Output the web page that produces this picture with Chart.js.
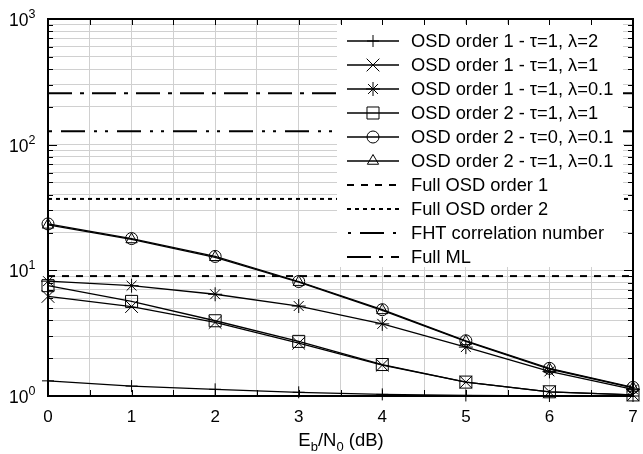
<!DOCTYPE html>
<html>
<head>
<meta charset="utf-8">
<script src="https://cdn.jsdelivr.net/npm/chart.js@4.4.0/dist/chart.umd.min.js"></script>
<style>
  html, body { margin: 0; padding: 0; background: #fff; }
  #wrap { width: 643px; height: 454px; }
</style>
</head>
<body>
<div id="wrap"><canvas id="complexity" width="643" height="454"></canvas></div>
<script>
// Eb/N0 points (dB)
const snr = [0, 1, 2, 3, 4, 5, 6, 7];

// average number of correlations per decoded word
const osd1Tau1Lam2 = [1.32, 1.20, 1.13, 1.07, 1.03, 1.01, 1.00, 1.00];
const osd1Tau1Lam1 = [6.2, 5.15, 3.85, 2.63, 1.76, 1.29, 1.08, 1.02];
const osd1Tau1Lam01 = [8.2, 7.55, 6.45, 5.2, 3.75, 2.45, 1.57, 1.13];
const osd2Tau1Lam1 = [7.55, 5.66, 3.97, 2.72, 1.78, 1.29, 1.08, 1.02];
const osd2Tau0Lam01 = [23.4, 17.9, 12.9, 8.15, 4.86, 2.75, 1.66, 1.17];
const osd2Tau1Lam01 = [23.0, 17.6, 12.7, 8.05, 4.8, 2.72, 1.64, 1.16];

// fixed complexity levels
const fullOsd1 = 9;
const fullOsd2 = 37;
const fhtCorr = 128;
const fullMl = 256;

// axis labels
const xTickLabels = ['0', '1', '2', '3', '4', '5', '6', '7'];
const yTickExponents = [0, 1, 2, 3];

const FONT = '"Liberation Sans", Arial, Helvetica, sans-serif';

const toPoints = arr => snr.map((x, i) => ({ x: x, y: arr[i] }));
const flat = lvl => [{ x: snr[0], y: lvl }, { x: snr[snr.length - 1], y: lvl }];

// grid values of the log axis: 1..9 in every decade
const yGrid = [];
for (let d = 0; d < yTickExponents.length - 1; d++) {
  for (let m = 1; m < 10; m++) yGrid.push(m * Math.pow(10, yTickExponents[d]));
}
yGrid.push(Math.pow(10, yTickExponents[yTickExponents.length - 1]));

function curve(label, arr, style, radius) {
  return {
    label: label,
    data: toPoints(arr),
    borderColor: '#000',
    borderWidth: 1.3,
    pointStyle: style,
    pointRadius: radius,
    pointBorderColor: '#000',
    pointBackgroundColor: 'rgba(0,0,0,0)',
    pointBorderWidth: 1,
    tension: 0,
    clip: false
  };
}

function level(label, lvl, dash, offset) {
  return {
    label: label,
    data: flat(lvl),
    borderColor: '#000',
    borderWidth: 2,
    borderDash: dash,
    borderDashOffset: offset,
    pointRadius: 0,
    pointStyle: false,
    clip: false
  };
}

const datasets = [
  curve('OSD order 1 - \u03c4=1, \u03bb=2', osd1Tau1Lam2, 'cross', 6),
  curve('OSD order 1 - \u03c4=1, \u03bb=1', osd1Tau1Lam1, 'crossRot', 9),
  curve('OSD order 1 - \u03c4=1, \u03bb=0.1', osd1Tau1Lam01, 'star', 7),
  curve('OSD order 2 - \u03c4=1, \u03bb=1', osd2Tau1Lam1, 'rect', 8.5),
  curve('OSD order 2 - \u03c4=0, \u03bb=0.1', osd2Tau0Lam01, 'circle', 6),
  curve('OSD order 2 - \u03c4=1, \u03bb=0.1', osd2Tau1Lam01, 'triangle', 6.5),
  level('Full OSD order 1', fullOsd1, [7, 7], 0),
  level('Full OSD order 2', fullOsd2, [4, 4], 0),
  level('FHT correlation number', fhtCorr, [24, 9, 3, 8, 3, 9], 43),
  level('Full ML', fullMl, [24, 8, 4, 8], 0)
];

// frame, inward ticks, tick labels, axis title and legend
const decorations = {
  id: 'decorations',
  afterDatasetsDraw(chart) {
    const ctx = chart.ctx;
    const area = chart.chartArea;
    const xs = chart.scales.x;
    const ys = chart.scales.y;
    ctx.save();

    // legend box
    const lgLeft = 337, lgRight = 623, lgTop = 24, lgBottom = 267;
    ctx.fillStyle = '#fff';
    ctx.fillRect(lgLeft, lgTop, lgRight - lgLeft, lgBottom - lgTop);

    // tick marks pointing inside
    ctx.strokeStyle = '#000';
    ctx.lineWidth = 1;
    ctx.beginPath();
    xs.ticks.forEach(t => {
      const px = Math.round(xs.getPixelForValue(t.value)) + 0.5;
      ctx.moveTo(px, area.bottom);
      ctx.lineTo(px, area.bottom - 6);
      ctx.moveTo(px, area.top);
      ctx.lineTo(px, area.top + 6);
    });
    yGrid.forEach(v => {
      const py = Math.round(ys.getPixelForValue(v)) + 0.5;
      const major = Math.abs(Math.log10(v) - Math.round(Math.log10(v))) < 1e-9;
      const len = major ? 9 : 5;
      ctx.moveTo(area.left, py);
      ctx.lineTo(area.left + len, py);
      ctx.moveTo(area.right, py);
      ctx.lineTo(area.right - len, py);
    });
    ctx.stroke();

    // frame
    ctx.lineWidth = 2;
    ctx.strokeRect(area.left, area.top, area.right - area.left, area.bottom - area.top);

    // x tick labels
    ctx.fillStyle = '#000';
    ctx.font = '17px ' + FONT;
    ctx.textAlign = 'center';
    ctx.textBaseline = 'alphabetic';
    snr.forEach((x, i) => {
      ctx.fillText(xTickLabels[i], xs.getPixelForValue(x), 422);
    });

    // y tick labels as 10 with superscript exponent
    yTickExponents.forEach(e => {
      const py = ys.getPixelForValue(Math.pow(10, e));
      ctx.font = '17.5px ' + FONT;
      ctx.textAlign = 'left';
      ctx.fillText('10', 9, py + 7);
      const w = ctx.measureText('10').width;
      ctx.font = '12.5px ' + FONT;
      ctx.fillText(String(e), 9 + w, py - 1);
    });

    // x axis title: Eb/N0 (dB)
    const parts = [
      ['E', 18.5, 0], ['b', 13, 5], ['/N', 18.5, 0], ['0', 13, 5], [' (dB)', 18.5, 0]
    ];
    let total = 0;
    parts.forEach(p => { ctx.font = p[1] + 'px ' + FONT; total += ctx.measureText(p[0]).width; });
    let tx = 341 - total / 2;
    ctx.textAlign = 'left';
    parts.forEach(p => {
      ctx.font = p[1] + 'px ' + FONT;
      ctx.fillText(p[0], tx, 446 + p[2]);
      tx += ctx.measureText(p[0]).width;
    });

    // legend entries
    const sx0 = 347, sx1 = 399, smid = 373, textX = 411;
    chart.data.datasets.forEach((ds, i) => {
      const cy = 40.5 + i * 24;
      ctx.strokeStyle = '#000';
      ctx.lineWidth = ds.borderWidth;
      ctx.setLineDash(ds.borderDash || []);
      ctx.lineDashOffset = ds.borderDashOffset || 0;
      ctx.beginPath();
      ctx.moveTo(sx0, cy + 0.5);
      ctx.lineTo(sx1, cy + 0.5);
      ctx.stroke();
      ctx.setLineDash([]);
      if (ds.pointStyle) {
        ctx.lineWidth = ds.pointBorderWidth;
        ctx.fillStyle = 'rgba(0,0,0,0)';
        Chart.helpers.drawPoint(ctx, {
          pointStyle: ds.pointStyle,
          radius: ds.pointRadius,
          rotation: 0,
          borderWidth: ds.pointBorderWidth
        }, smid, cy + 0.5);
      }
      ctx.fillStyle = '#000';
      ctx.font = '18.3px ' + FONT;
      ctx.textAlign = 'left';
      ctx.fillText(ds.label, textX, cy + 6.5);
    });

    ctx.restore();
  }
};

new Chart(document.getElementById('complexity').getContext('2d'), {
  type: 'line',
  data: { datasets: datasets },
  options: {
    responsive: false,
    animation: false,
    devicePixelRatio: 1,
    layout: { padding: { left: 48, right: 8, top: 19, bottom: 58 } },
    plugins: { legend: { display: false }, tooltip: { enabled: false } },
    scales: {
      x: {
        type: 'linear',
        min: 0,
        max: 7,
        ticks: { display: false, stepSize: 0.5 },
        grid: { color: '#d0d0d0', lineWidth: 1, drawTicks: false },
        border: { display: false },
        afterFit: s => { s.height = 0; }
      },
      y: {
        type: 'logarithmic',
        min: 1,
        max: 1000,
        ticks: { display: false },
        grid: { color: '#d0d0d0', lineWidth: 1, drawTicks: false },
        border: { display: false },
        afterBuildTicks: s => { s.ticks = yGrid.map(v => ({ value: v })); },
        afterFit: s => { s.width = 0; }
      }
    }
  },
  plugins: [decorations]
});
</script>
</body>
</html>
